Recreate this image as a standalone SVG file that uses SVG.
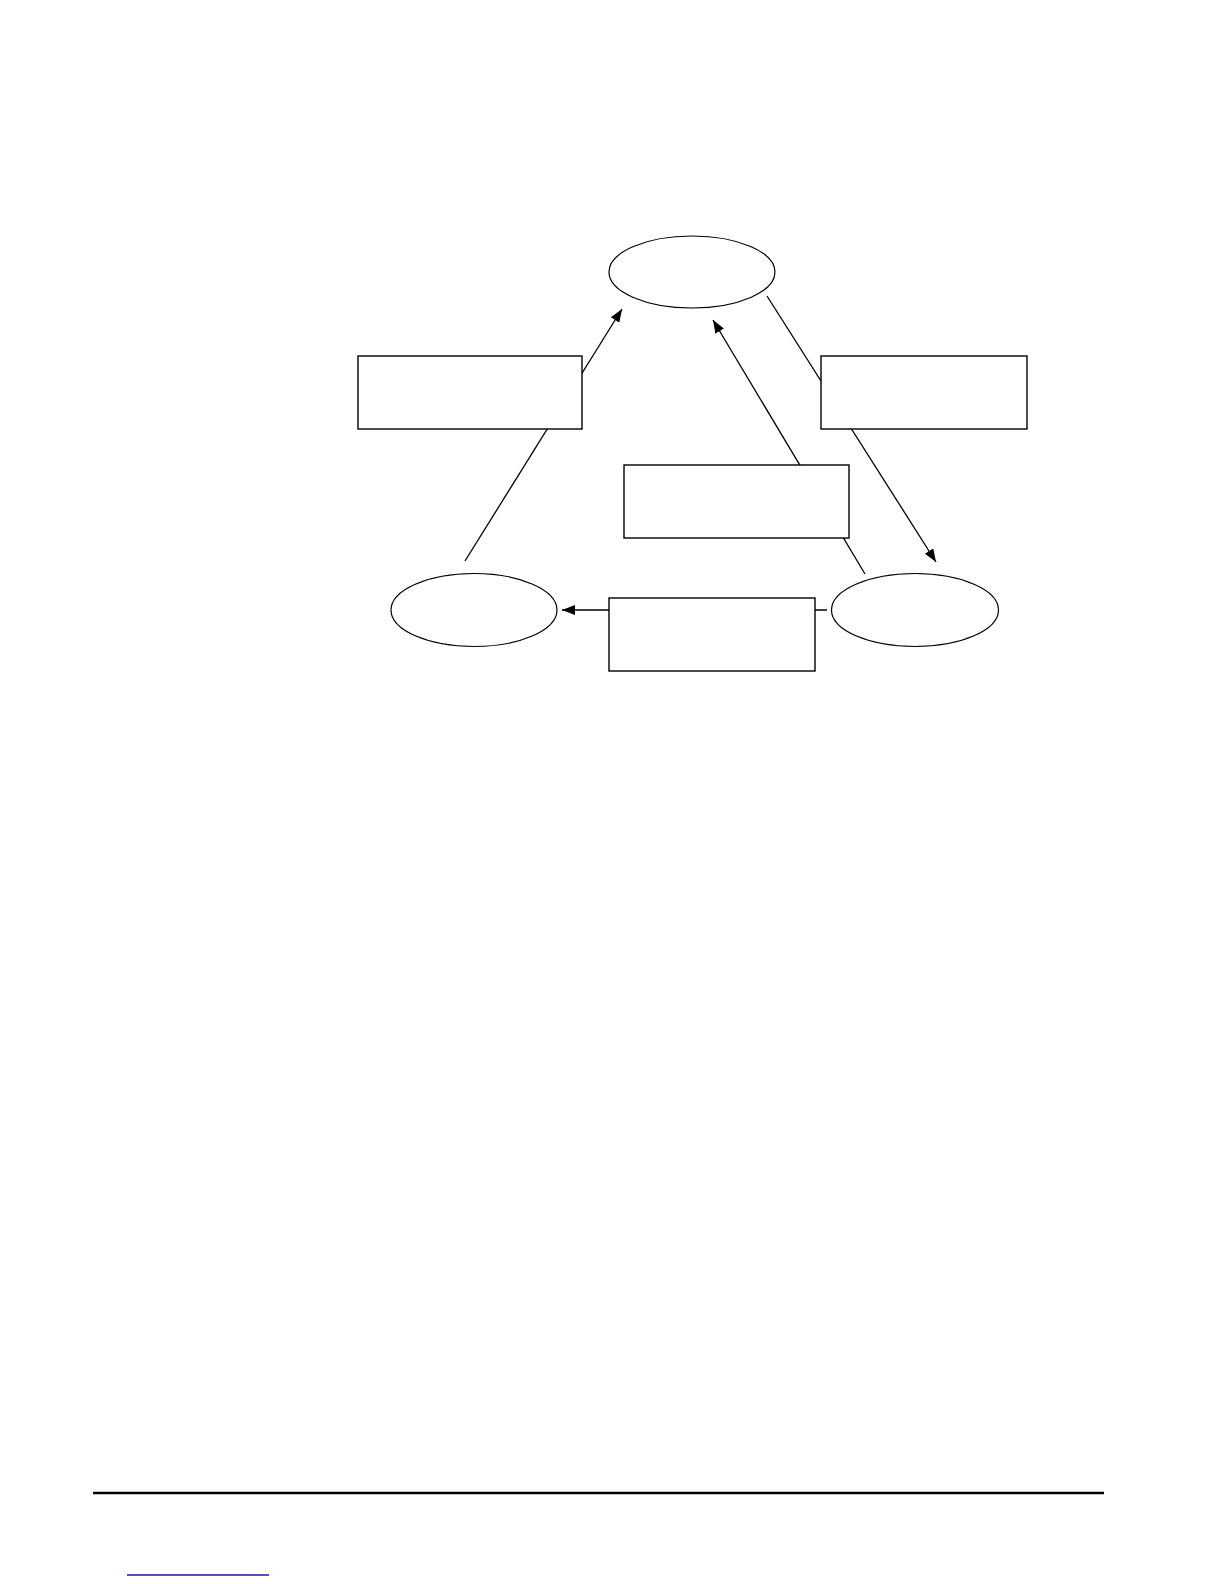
<svg xmlns="http://www.w3.org/2000/svg" width="1224" height="1584" viewBox="0 0 1224 1584">
<style>
.conn{stroke:#000;stroke-width:1.3;fill:none}
.node{fill:#fff;stroke:#000;stroke-width:1.4}
.ell{fill:#fff;stroke:#000;stroke-width:1.2}
</style>
<defs>
<marker id="arr" markerUnits="userSpaceOnUse" markerWidth="14" markerHeight="10" refX="13" refY="5" orient="auto">
<path d="M0,0 L13,5 L0,10 z" fill="#000"/>
</marker>
</defs>
<rect width="1224" height="1584" fill="#fff"/>
<g id="connectors">
<line class="conn" x1="465" y1="561" x2="622" y2="309" marker-end="url(#arr)"/>
<line class="conn" x1="767" y1="296" x2="936" y2="562" marker-end="url(#arr)"/>
<line class="conn" x1="865" y1="574" x2="713" y2="320" marker-end="url(#arr)"/>
<line class="conn" x1="827" y1="610" x2="562" y2="610" marker-end="url(#arr)"/>
</g>
<g id="node-top"><ellipse class="ell" cx="692" cy="272" rx="83" ry="36"/></g>
<g id="node-left"><ellipse class="ell" cx="474" cy="610" rx="83" ry="36.5"/></g>
<g id="node-right"><ellipse class="ell" cx="915" cy="610" rx="83.5" ry="36.5"/></g>
<g id="box-left"><rect class="node" x="358" y="356" width="224" height="73"/></g>
<g id="box-right"><rect class="node" x="821" y="356" width="206" height="73"/></g>
<g id="box-middle"><rect class="node" x="624" y="465" width="225" height="73"/></g>
<g id="box-bottom"><rect class="node" x="609" y="598" width="206" height="73"/></g>
<line x1="93" y1="1493" x2="1104" y2="1493" stroke="#000" stroke-width="2.5"/>
<line x1="127" y1="1575" x2="269" y2="1575" stroke="#1a1a8c" stroke-width="1.5"/>
</svg>
